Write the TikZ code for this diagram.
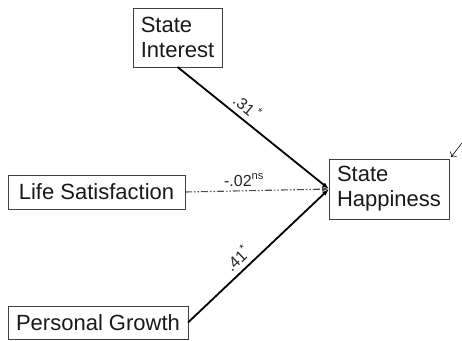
\documentclass[tikz,border=0pt]{standalone}
\usepackage{fontspec}
\setmainfont{Liberation Sans}
\usetikzlibrary{arrows.meta}

\begin{document}
\begin{tikzpicture}[x=1pt,y=-1pt,
      var/.style={draw=black!75,line width=1pt,align=left,inner sep=0pt,outer sep=0pt,
                  font=\fontsize{22}{25}\selectfont,text=black!90},
      coef/.style={font=\fontsize{16}{18}\selectfont,text=black!85,inner sep=2pt},
      path/.style={-{Latex[length=7pt,width=5pt]},line width=1.8pt},
      weak/.style={-{Latex[length=7pt,width=5pt]},line width=1.1pt,black!70,
                   dash pattern=on 7pt off 2pt on 1.5pt off 2pt on 1.5pt off 2pt}]
    \useasboundingbox (0,0) rectangle (462,340);
    \node[var,minimum width=89pt,minimum height=59pt] (interest) at (177.5,37.5) {State\\Interest};
    \node[var,minimum width=177pt,minimum height=34pt] (life) at (96.5,192) {Life Satisfaction};
    \node[var,minimum width=180pt,minimum height=33pt] (growth) at (98,322.5) {Personal Growth};
    \node[var,minimum width=120pt,minimum height=60pt] (happy) at (389,189) {State\\Happiness};
    \coordinate (note) at (462,143);
    \draw[path] (interest.south)--node[coef,sloped,above=3pt,pos=0.41]{.31\,\textsuperscript{*}}(happy.west);
    \draw[weak] (life.east)--node[coef,above=2pt,pos=0.41]{-.02\textsuperscript{ns}}(happy.west);
    \draw[path] (growth.east)--node[coef,sloped,above=3pt,pos=0.41]{.41\textsuperscript{*}}(happy.west);
    \draw[-{To[length=4pt]},line width=0.6pt] (note)--([shift={(2,-2)}]happy.north east);
  \end{tikzpicture}
\end{document}
